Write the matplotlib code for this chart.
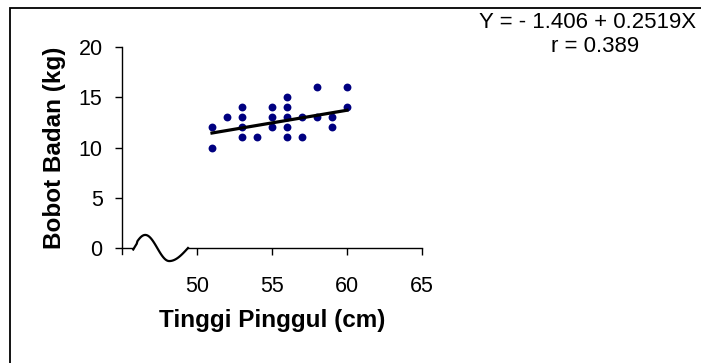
import numpy as np
import matplotlib
matplotlib.use("Agg")
import matplotlib.pyplot as plt
from matplotlib.patches import Rectangle

plt.rcParams['font.family'] = ['Liberation Sans', 'DejaVu Sans']

# data
tinggi = [51, 51, 52, 53, 53, 53, 53, 54, 55, 55, 55,
          56, 56, 56, 56, 56, 57, 57, 58, 58, 59, 59, 60, 60]
bobot = [12, 10, 13, 14, 13, 12, 11, 11, 14, 13, 12,
         15, 14, 13, 12, 11, 13, 11, 16, 13, 13, 12, 16, 14]
intercept = -1.406
slope = 0.2519
r_value = 0.389
x_ticks = [50, 55, 60, 65]
y_ticks = [0, 5, 10, 15, 20]

fig = plt.figure(figsize=(7.01, 3.63), dpi=100)
ax = fig.add_axes([122 / 701, 1 - 248 / 363, 300 / 701, 201 / 363])

ax.scatter(tinggi, bobot, s=32, color='#000080', zorder=3, linewidths=0)
xl = np.array([min(tinggi), max(tinggi)])
ax.plot(xl, intercept + slope * xl, color='black', lw=2.3, zorder=4)

ax.set_xlim(45, 65)
ax.set_ylim(0, 20)
ax.set_xticks(x_ticks)
ax.set_yticks(y_ticks)
ax.tick_params(direction='out', length=5, width=1, labelsize=15.5)
ax.tick_params(axis='y', pad=9)
ax.tick_params(axis='x', pad=15)
for s in ax.spines.values():
    s.set_visible(False)

# axes lines with the broken x axis
ax.plot([45, 45], [-0.6, 20], color='black', lw=1, clip_on=False)
ax.plot([45, 45.75], [0, 0], color='black', lw=1, clip_on=False)
ax.plot([49.4, 65], [0, 0], color='black', lw=1, clip_on=False)
bx = np.linspace(45.75, 49.4, 80)
phase = np.interp(bx, [45.75, 46.55, 48.15, 49.4], [0, np.pi / 2, 1.5 * np.pi, 2 * np.pi])
ax.plot(bx, 1.3 * np.sin(phase) - 0.15 * (bx < 46), color='black', lw=1.6, clip_on=False)

fig.text(55 / 701, 1 - 148 / 363, 'Bobot Badan (kg)', rotation=90, ha='center',
         va='center', fontsize=17.5, fontweight='bold')
fig.text(272 / 701, 1 - 321 / 363, 'Tinggi Pinggul (cm)', ha='center',
         va='center', fontsize=17.5, fontweight='bold')

fig.text(588 / 701, 1 - 22 / 363, f'Y = - {abs(intercept)} + {slope}X', ha='center',
         va='center', fontsize=16)
fig.text(595 / 701, 1 - 46 / 363, f'r = {r_value}', ha='center', va='center',
         fontsize=16)

fig.patches.append(Rectangle((9.5 / 701, -0.1), 1.2, 1.1 - 8.5 / 363,
                             transform=fig.transFigure, fill=False,
                             edgecolor='black', lw=1.3))

fig.savefig('out.png', dpi=100)
